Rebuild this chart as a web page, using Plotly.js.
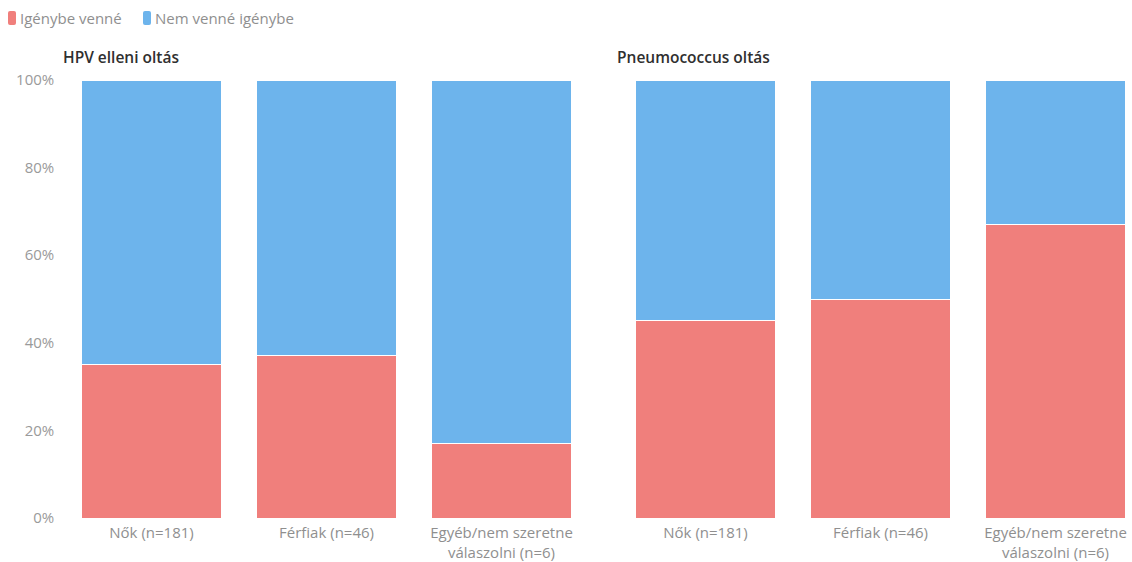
<!DOCTYPE html>
<html><head><meta charset="utf-8">
<script src="https://cdn.plot.ly/plotly-3.0.1.min.js"></script>
<style>html,body{margin:0;padding:0;background:#fff}#chart{width:1132px;height:562px}</style>
</head><body><div id="chart"></div>
<script>
const categories = ["Nők (n=181)", "Férfiak (n=46)", "Egyéb/nem szeretne<br>válaszolni (n=6)"];
const panelTitles = ["HPV elleni oltás", "Pneumococcus oltás"];
const seriesNames = ["Igénybe venné", "Nem venné igénybe"];
const hpvYes = [35, 37, 17];
const hpvNo = [65, 63, 83];
const pneuYes = [45, 50, 67];
const pneuNo = [55, 50, 33];
const yTicks = [0, 20, 40, 60, 80, 100];
const yTickLabels = ["0%", "20%", "40%", "60%", "80%", "100%"];

const RED = "#F07F7C", BLUE = "#6DB4EC";
const W = 1132, H = 562;
function bar(y, name, color, xa, ya) {
  return {type: "bar", x: categories, y: y, name: name, xaxis: xa, yaxis: ya,
    marker: {color: color, line: {color: "#ffffff", width: 1}}, showlegend: false,
    hoverinfo: "skip"};
}
const data = [
  bar(hpvYes, seriesNames[0], RED, "x", "y"),
  bar(hpvNo, seriesNames[1], BLUE, "x", "y"),
  bar(pneuYes, seriesNames[0], RED, "x2", "y2"),
  bar(pneuNo, seriesNames[1], BLUE, "x2", "y2")
];
const sp = 175;
const lStart = 151.5 - 0.55*sp, lEnd = 151.5 + 2.45*sp;
const rStart = 705.5 - 0.45*sp, rEnd = 705.5 + 2.41*sp;
const yDom = [1 - 518/H, 1 - 80/H];
const FONT = "Open Sans, sans-serif";
const xTickFont = {family: FONT, size: 15, color: "#8f8f8f"};
const yTickFont = {family: FONT, size: 15, color: "#9a9a9a"};
const xcommon = {showgrid: false, zeroline: false, showline: false, ticks: "", tickfont: xTickFont, ticklabelstandoff: 4};
const ycommon = {range: [0, 100], tickvals: yTicks, ticktext: yTickLabels, showgrid: false, zeroline: false,
  showline: false, ticks: "", tickfont: yTickFont, domain: yDom};

// manual legend (rounded swatches + labels)
function px(x) { return x / W; }
function py(y) { return 1 - y / H; }
function swatch(x0, x1, y0, y1, color) {
  const r = 2;
  const p = `M ${px(x0+r)} ${py(y0)} L ${px(x1-r)} ${py(y0)} Q ${px(x1)} ${py(y0)} ${px(x1)} ${py(y0+r)} ` +
    `L ${px(x1)} ${py(y1-r)} Q ${px(x1)} ${py(y1)} ${px(x1-r)} ${py(y1)} L ${px(x0+r)} ${py(y1)} ` +
    `Q ${px(x0)} ${py(y1)} ${px(x0)} ${py(y1-r)} L ${px(x0)} ${py(y0+r)} Q ${px(x0)} ${py(y0)} ${px(x0+r)} ${py(y0)} Z`;
  return {type: "path", xref: "paper", yref: "paper", path: p, fillcolor: color, line: {width: 0}};
}
const legendFont = {family: FONT, size: 15, color: "#8f8f8f"};
const layout = {
  width: W, height: H, margin: {l: 0, r: 0, t: 0, b: 0},
  paper_bgcolor: "#fff", plot_bgcolor: "#fff",
  barmode: "stack", bargap: 0.205,
  font: {family: FONT},
  showlegend: false,
  xaxis: Object.assign({}, xcommon, {domain: [lStart/W, lEnd/W], range: [-0.55, 2.45], anchor: "y"}),
  xaxis2: Object.assign({}, xcommon, {domain: [rStart/W, rEnd/W], range: [-0.45, 2.41], anchor: "y2"}),
  yaxis: Object.assign({}, ycommon, {anchor: "x"}),
  yaxis2: Object.assign({}, ycommon, {anchor: "x2", showticklabels: false}),
  shapes: [swatch(8, 16, 11, 25, RED), swatch(143, 151, 11, 25, BLUE)],
  annotations: [
    {text: seriesNames[0], xref: "paper", yref: "paper", x: px(18), y: py(18), xanchor: "left", yanchor: "middle",
      showarrow: false, font: legendFont},
    {text: seriesNames[1], xref: "paper", yref: "paper", x: px(153), y: py(18), xanchor: "left", yanchor: "middle",
      showarrow: false, font: legendFont},
    {text: panelTitles[0], xref: "paper", yref: "paper", x: px(61), y: py(57),
      xanchor: "left", yanchor: "middle", showarrow: false, font: {family: FONT, size: 15.5, weight: 600, color: "#2f2f2f"}},
    {text: panelTitles[1], xref: "paper", yref: "paper", x: px(615), y: py(57),
      xanchor: "left", yanchor: "middle", showarrow: false, font: {family: FONT, size: 15.5, weight: 600, color: "#2f2f2f"}}
  ]
};
Plotly.newPlot("chart", data, layout, {displayModeBar: false, staticPlot: true});
</script></body></html>
